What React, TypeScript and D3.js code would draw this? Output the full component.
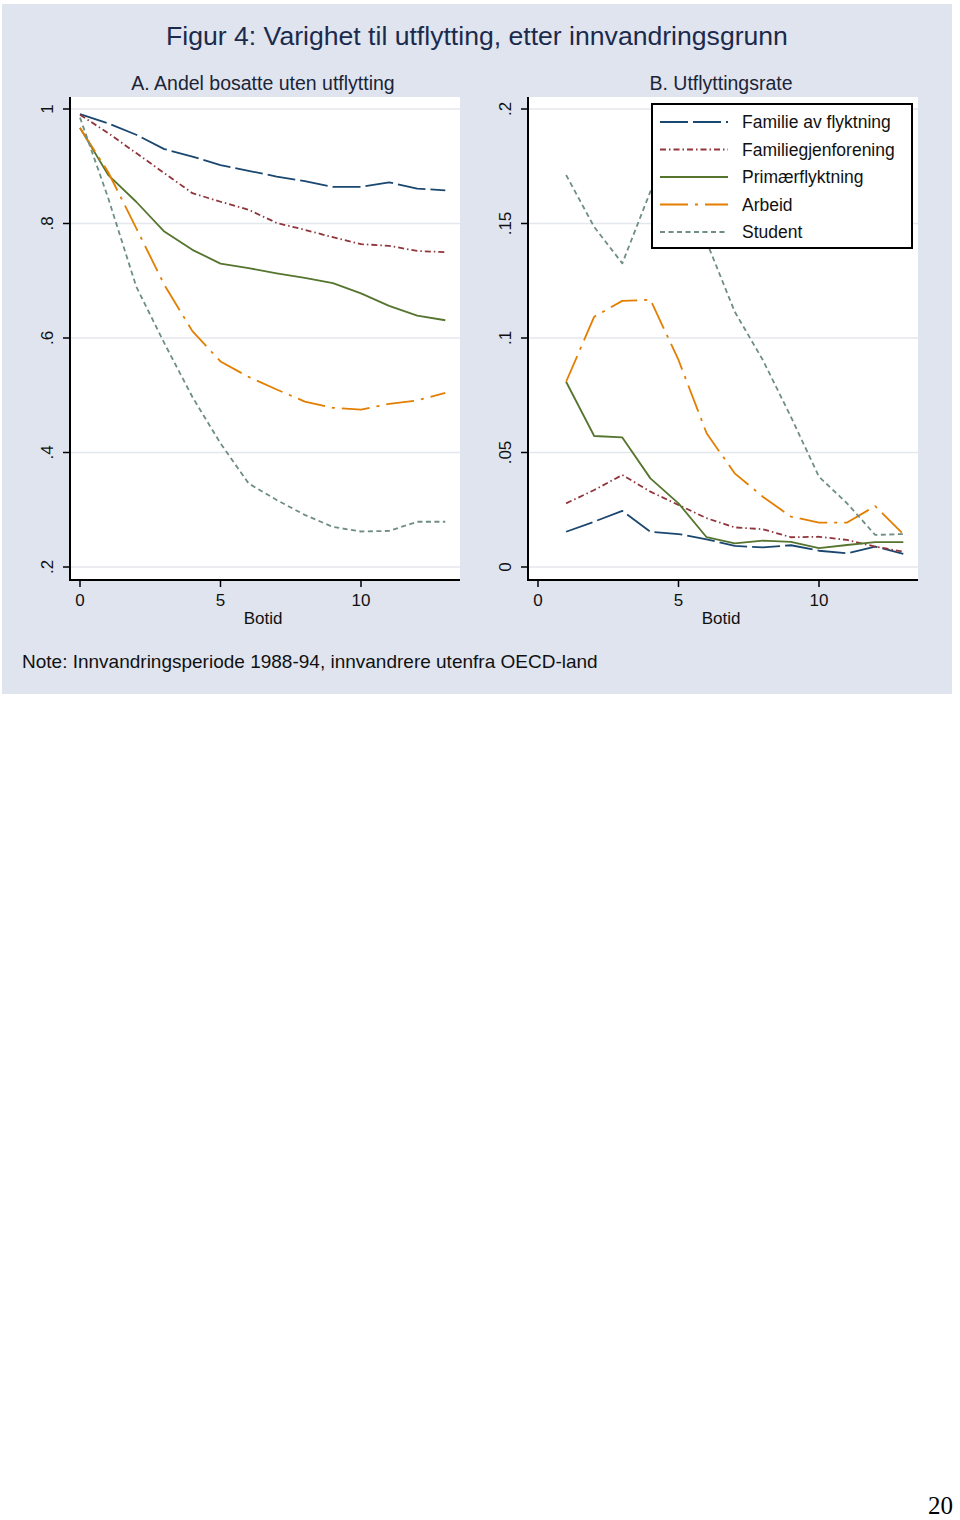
import * as d3 from 'd3';

// x values (Botid)
const botidA = [0, 1, 2, 3, 4, 5, 6, 7, 8, 9, 10, 11, 12, 13];
const botidB = [1, 2, 3, 4, 5, 6, 7, 8, 9, 10, 11, 12, 13];

const seriesNames = ['Familie av flyktning', 'Familiegjenforening', 'Primærflyktning', 'Arbeid', 'Student'];

// Panel A: andel bosatte uten utflytting
const aFamilie = [0.991, 0.975, 0.955, 0.93, 0.917, 0.902, 0.892, 0.882, 0.874, 0.864, 0.864, 0.872, 0.861, 0.858];
const aGjenforening = [0.99, 0.958, 0.923, 0.888, 0.853, 0.838, 0.824, 0.801, 0.789, 0.776, 0.764, 0.761, 0.752, 0.75];
const aPrimaer = [0.967, 0.885, 0.838, 0.786, 0.754, 0.73, 0.722, 0.713, 0.705, 0.696, 0.678, 0.656, 0.639, 0.631];
const aArbeid = [0.967, 0.89, 0.792, 0.693, 0.612, 0.559, 0.532, 0.51, 0.489, 0.478, 0.475, 0.485, 0.491, 0.504];
const aStudent = [0.985, 0.845, 0.69, 0.591, 0.497, 0.416, 0.346, 0.317, 0.291, 0.27, 0.262, 0.263, 0.279, 0.279];

// Panel B: utflyttingsrate
const bFamilie = [0.0154, 0.0198, 0.0245, 0.0154, 0.0144, 0.0121, 0.0092, 0.0086, 0.0095, 0.0071, 0.006, 0.0089, 0.0057];
const bGjenforening = [0.0278, 0.0336, 0.0402, 0.0329, 0.0271, 0.0213, 0.0173, 0.0165, 0.013, 0.0132, 0.0118, 0.0089, 0.0067];
const bPrimaer = [0.0809, 0.0572, 0.0566, 0.0387, 0.0278, 0.013, 0.0103, 0.0115, 0.011, 0.0082, 0.0096, 0.0109, 0.0109];
const bArbeid = [0.0809, 0.1093, 0.1162, 0.1167, 0.0904, 0.0584, 0.0409, 0.0307, 0.022, 0.0194, 0.0194, 0.0266, 0.0144];
const bStudent = [0.1712, 0.1485, 0.1326, 0.164, 0.172, 0.142, 0.1115, 0.0904, 0.0656, 0.0394, 0.0278, 0.014, 0.0144];

const xTicks = [0, 5, 10];
const yTicksA = [0.2, 0.4, 0.6, 0.8, 1];
const yTickLabelsA = ['.2', '.4', '.6', '.8', '1'];
const yTicksB = [0, 0.05, 0.1, 0.15, 0.2];
const yTickLabelsB = ['0', '.05', '.1', '.15', '.2'];

const colors = ['#1a476f', '#90353b', '#55752f', '#e37e00', '#6e8e84'];
const dashes = ['28,5', '6,3,1.5,3', null, '28,7,3,7', '5,3.5'];

const FONT = 'Liberation Sans, Arial, sans-serif';

type PanelProps = {
  left: number;
  right: number;
  xs: number[];
  series: number[][];
  yDomain: [number, number];
  yTicks: number[];
  yLabels: string[];
  title: string;
  legend?: boolean;
};

function Panel({ left, right, xs, series, yDomain, yTicks, yLabels, title, legend }: PanelProps) {
  const top = 97;
  const bottom = 580;
  const x = d3.scaleLinear().domain([0, 5]).range([left + 10, left + 10 + 140.5]);
  const y = d3.scaleLinear().domain(yDomain).range([567, 109]);
  const line = d3.line<[number, number]>().x(d => x(d[0])).y(d => y(d[1]));
  const cx = (left + right) / 2;

  return (
    <g>
      <rect x={left} y={top} width={right - left} height={bottom - top} fill="#ffffff" />
      {yTicks.map(t => (
        <line key={'g' + t} x1={left} x2={right} y1={y(t)} y2={y(t)} stroke="#e4e7ec" strokeWidth={1.5} />
      ))}
      {series.map((s, i) => (
        <path
          key={i}
          d={line(xs.map((v, j) => [v, s[j]] as [number, number])) || ''}
          fill="none"
          stroke={colors[i]}
          strokeWidth={1.8}
          strokeDasharray={dashes[i] || undefined}
          strokeLinejoin="round"
        />
      ))}
      {/* axes */}
      <line x1={left} x2={left} y1={top} y2={bottom + 1} stroke="#000" strokeWidth={2} />
      <line x1={left - 1} x2={right} y1={bottom} y2={bottom} stroke="#000" strokeWidth={2} />
      {yTicks.map((t, i) => (
        <g key={'y' + t}>
          <line x1={left - 7} x2={left} y1={y(t)} y2={y(t)} stroke="#000" strokeWidth={1.5} />
          <text
            transform={`translate(${left - 17},${y(t)}) rotate(-90)`}
            textAnchor="middle"
            fontFamily={FONT}
            fontSize={17}
            fill="#111"
          >
            {yLabels[i]}
          </text>
        </g>
      ))}
      {xTicks.map(t => (
        <g key={'x' + t}>
          <line x1={x(t)} x2={x(t)} y1={bottom} y2={bottom + 7} stroke="#000" strokeWidth={1.5} />
          <text x={x(t)} y={606} textAnchor="middle" fontFamily={FONT} fontSize={17} fill="#111">
            {t}
          </text>
        </g>
      ))}
      <text x={cx - 2} y={624} textAnchor="middle" fontFamily={FONT} fontSize={17} fill="#111">
        Botid
      </text>
      <text x={cx - 2} y={90} textAnchor="middle" fontFamily={FONT} fontSize={19.5} fill="#1c2438">
        {title}
      </text>
      {legend && (
        <g>
          <rect x={652} y={104} width={260} height={144} fill="#fff" stroke="#000" strokeWidth={2} />
          {seriesNames.map((n, i) => (
            <g key={n} transform={`translate(0,${122 + i * 27.5})`}>
              <line
                x1={660}
                x2={728}
                y1={0}
                y2={0}
                stroke={colors[i]}
                strokeWidth={1.8}
                strokeDasharray={dashes[i] || undefined}
              />
              <text x={742} y={6} fontFamily={FONT} fontSize={17.5} fill="#111">
                {n}
              </text>
            </g>
          ))}
        </g>
      )}
    </g>
  );
}

export default function App() {
  return (
    <svg
      width={960}
      height={1520}
      style={{ position: 'absolute', left: 0, top: 0, background: '#fff' }}
    >
      <rect x={2} y={4} width={950} height={690} fill="#dfe4ef" />
      <text x={477} y={45} textAnchor="middle" fontFamily={FONT} fontSize={26.6} fill="#1c2a4c">
        Figur 4: Varighet til utflytting, etter innvandringsgrunn
      </text>
      <Panel
        left={70}
        right={460}
        xs={botidA}
        series={[aFamilie, aGjenforening, aPrimaer, aArbeid, aStudent]}
        yDomain={[0.2, 1]}
        yTicks={yTicksA}
        yLabels={yTickLabelsA}
        title="A. Andel bosatte uten utflytting"
      />
      <Panel
        left={528}
        right={918}
        xs={botidB}
        series={[bFamilie, bGjenforening, bPrimaer, bArbeid, bStudent]}
        yDomain={[0, 0.2]}
        yTicks={yTicksB}
        yLabels={yTickLabelsB}
        title="B. Utflyttingsrate"
        legend
      />
      <text x={22} y={668} fontFamily={FONT} fontSize={19} fill="#111">
        Note: Innvandringsperiode 1988-94, innvandrere utenfra OECD-land
      </text>
      <text x={953} y={1514} textAnchor="end" fontFamily="Liberation Serif, Times New Roman, serif" fontSize={25} fill="#000">
        20
      </text>
    </svg>
  );
}
